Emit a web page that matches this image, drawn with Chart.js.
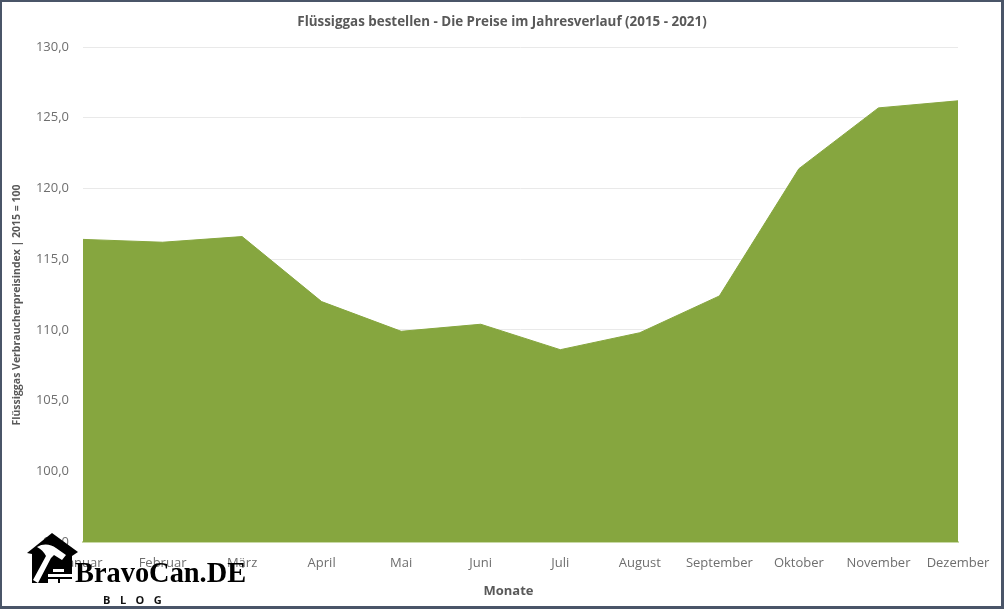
<!DOCTYPE html>
<html lang="de">
<head>
<meta charset="utf-8">
<title>Flüssiggas bestellen</title>
<script src="https://cdn.jsdelivr.net/npm/chart.js@4"></script>
<style>
  html, body { margin: 0; padding: 0; background: #fff; }
  #wrap { position: relative; width: 1004px; height: 609px; overflow: hidden; }
  #wrap::after {
    content: ""; position: absolute; inset: 0; box-sizing: border-box;
    border: solid #4a5568; border-width: 2px 3px 3px 2px; pointer-events: none;
  }
  #logo-icon { position: absolute; left: 26px; top: 533px; }
  #logo-name {
    position: absolute; left: 75px; top: 556px; color: #000;
    font: bold 28.4px "Liberation Serif", serif; line-height: 34px; white-space: nowrap;
  }
  #logo-sub {
    position: absolute; left: 103px; top: 593px; color: #111;
    font: bold 11px "Open Sans", sans-serif; letter-spacing: 9.5px; line-height: 14px; white-space: nowrap;
  }
</style>
</head>
<body>
<div id="wrap">
  <canvas id="price-chart" width="1004" height="609"></canvas>
  <svg id="logo-icon" width="54" height="52" viewBox="0 0 54 52">
    <!-- house -->
    <path d="M26 0 L52 19 L46 23 L46 50 L6 50 L6 21 L1 20 Z" fill="#000"/>
    <!-- hammer -->
    <path d="M11 14 C17 10 25 11 30 15 L40 22 L36 27 L28 22 L25 25 L12 50 L7 47 L20 23 C18 19 15 16 11 14 Z" fill="#fff"/>
    <!-- bricks -->
    <path d="M27 36 H38 V39 H27 Z M22 41 H46 V44 H22 Z M22 46 H32 V50 H22 Z M34 46 H46 V50 H34 Z" fill="#fff"/>
  </svg>
  <div id="logo-name">BravoCan.DE</div>
  <div id="logo-sub">BLOG</div>
</div>
<script>
const months = [
  "Januar", "Februar", "März", "April", "Mai", "Juni",
  "Juli", "August", "September", "Oktober", "November", "Dezember"
];
const priceIndex = [116.4, 116.2, 116.6, 112.0, 109.9, 110.4, 108.6, 109.8, 112.4, 121.4, 125.7, 126.2];
const axisMin = 95;
const axisMax = 130;
const axisStep = 5;

const fontFamily = '"Open Sans", sans-serif';

// Axis titles sit off-centre, so they are painted here instead of by the scales
const axisTitles = {
  id: 'axisTitles',
  afterDraw(chart) {
    const { ctx } = chart;
    ctx.save();
    ctx.fillStyle = '#595959';
    ctx.textAlign = 'center';
    ctx.textBaseline = 'middle';
    ctx.font = `bold 13px ${fontFamily}`;
    ctx.fillText('Monate', 508.5, 591);
    ctx.translate(17, 305);
    ctx.rotate(-Math.PI / 2);
    ctx.font = `bold 10.5px ${fontFamily}`;
    ctx.fillText('Flüssiggas Verbraucherpreisindex | 2015 = 100', 0, 0);
    ctx.restore();
  }
};

new Chart(document.getElementById('price-chart'), {
  type: 'line',
  data: {
    labels: months,
    datasets: [{
      data: priceIndex,
      borderColor: '#86a63f',
      borderWidth: 1,
      backgroundColor: '#86a63f',
      fill: 'start',
      pointRadius: 0,
      tension: 0
    }]
  },
  options: {
    responsive: false,
    animation: false,
    plugins: {
      legend: { display: false },
      tooltip: { enabled: false },
      title: {
        display: true,
        text: 'Flüssiggas bestellen - Die Preise im Jahresverlauf (2015 - 2021)',
        color: '#595959',
        font: { family: fontFamily, size: 13.4, weight: 'bold' },
        padding: { top: 14, bottom: 17 }
      }
    },
    scales: {
      x: {
        offset: false,
        // fixed height so the baseline stays put
        afterFit: scale => { scale.height = 67; },
        grid: { display: false, drawTicks: false },
        border: { color: '#c9d9a6', width: 2 },
        ticks: {
          color: '#6e6e6e',
          padding: 13,
          maxRotation: 0,
          autoSkip: false,
          font: { family: fontFamily, size: 13 }
        }
      },
      y: {
        min: axisMin,
        max: axisMax,
        afterFit: scale => { scale.width = 83; },
        grid: { color: '#e9e9e9', drawTicks: false },
        border: { display: false },
        ticks: {
          stepSize: axisStep,
          color: '#6e6e6e',
          padding: 14,
          font: { family: fontFamily, size: 13 },
          callback: value => value.toFixed(1).replace('.', ',')
        }
      },
      // empty axis that reserves the right margin and keeps the title centred on the page
      margin: {
        position: 'right',
        afterFit: scale => { scale.width = 46; },
        grid: { display: false, drawTicks: false },
        border: { display: false },
        ticks: { display: false }
      }
    }
  },
  plugins: [axisTitles]
});
</script>
</body>
</html>
